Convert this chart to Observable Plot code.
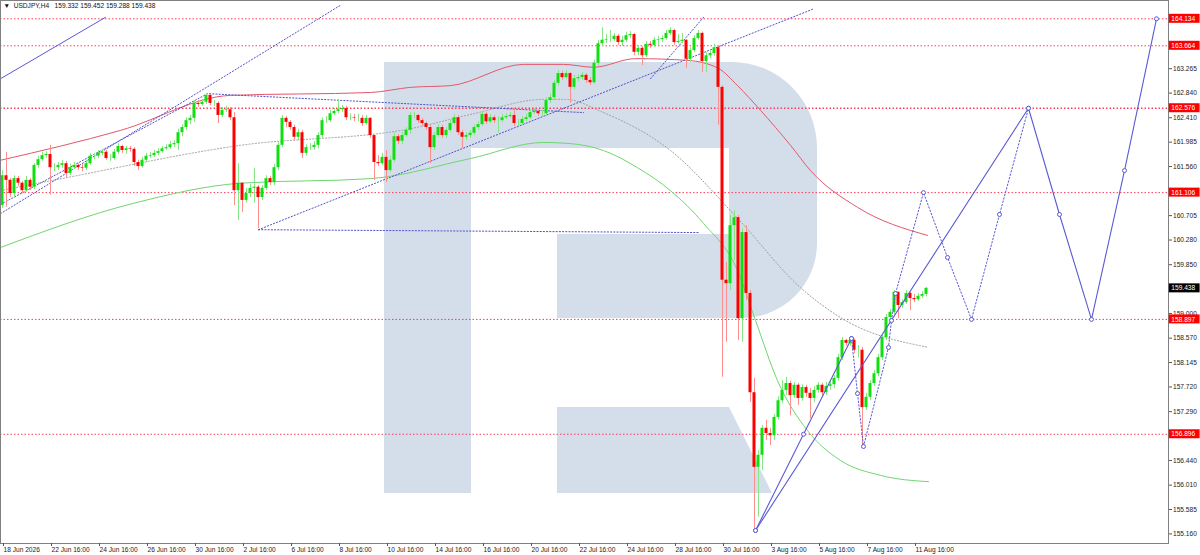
<!DOCTYPE html>
<html><head><meta charset="utf-8">
<script src="https://cdn.jsdelivr.net/npm/d3@7"></script>
<script src="https://cdn.jsdelivr.net/npm/@observablehq/plot@0.6"></script>
<style>html,body{margin:0;padding:0;background:#fff;overflow:hidden}</style>
</head><body><div id="chart"></div>
<script>
const symbolTitle = "USDJPY,H4";
const ohlcHeader = [159.332, 159.452, 159.288, 159.438];
const firstOpen = 160.88;
const closes = [
161.40,161.32,161.09,161.35,161.27,161.14,161.32,161.20,161.58,161.68,
161.75,161.77,161.54,161.54,161.58,161.61,161.44,161.54,161.58,161.54,
161.53,161.61,161.74,161.74,161.79,161.81,161.70,161.70,161.81,161.91,
161.84,161.87,161.86,161.63,161.56,161.67,161.74,161.75,161.79,161.82,
161.87,161.89,161.94,161.96,162.15,162.24,162.36,162.40,162.66,162.64,
162.68,162.80,162.66,162.66,162.45,162.54,162.55,162.41,161.14,161.27,
160.97,161.09,161.18,161.20,161.02,161.18,161.35,161.28,161.54,161.93,
162.40,162.33,162.24,162.07,162.15,161.79,161.89,161.89,161.93,162.10,
162.36,162.36,162.48,162.52,162.55,162.57,162.41,162.41,162.40,162.40,
162.31,162.40,162.10,161.63,161.61,161.72,161.49,161.67,162.08,162.00,
162.10,162.19,162.45,162.45,162.36,162.31,162.24,161.89,162.10,162.24,
162.10,162.19,162.31,162.41,162.15,162.07,162.10,162.14,162.24,162.29,
162.47,162.34,162.41,162.36,162.36,162.41,162.43,162.45,162.31,162.31,
162.38,162.41,162.50,162.52,162.48,162.48,162.71,162.76,163.01,163.18,
163.11,163.18,162.94,163.09,163.11,163.15,163.06,163.02,163.36,163.70,
163.76,163.77,163.77,163.83,163.72,163.76,163.84,163.86,163.55,163.62,
163.49,163.69,163.67,163.76,163.77,163.79,163.88,163.93,163.72,163.74,
163.76,163.43,163.58,163.79,163.88,163.39,163.49,163.53,163.63,162.94,
159.58,159.52,160.53,160.67,158.91,160.41,159.35,157.62,156.32,156.53,
157.00,156.91,156.87,157.19,157.48,157.66,157.78,157.57,157.75,157.52,
157.71,157.61,157.52,157.66,157.75,157.62,157.73,157.76,157.87,158.23,
158.53,158.48,158.53,158.36,158.36,157.36,157.54,157.78,157.95,158.23,
158.58,158.93,159.02,159.37,159.14,159.19,159.35,159.26,159.24,159.30,
159.332,159.438];
const highs = [
161.49,161.81,161.35,161.40,161.39,161.30,161.39,161.35,161.61,161.74,
161.81,161.82,161.93,161.61,161.63,161.67,161.65,161.60,161.63,161.61,
161.60,161.67,161.79,161.79,161.84,161.86,161.84,161.77,161.86,161.96,
161.93,161.91,161.91,161.89,161.67,161.72,161.79,161.81,161.84,161.87,
161.91,161.94,162.00,162.01,162.21,162.29,162.41,162.45,162.71,162.71,
162.73,162.83,162.82,162.71,162.69,162.59,162.61,162.59,162.50,161.61,
161.14,161.18,161.25,161.53,161.23,161.23,161.40,161.39,161.60,161.98,
162.45,162.43,162.36,162.28,162.21,162.19,161.94,161.96,162.00,162.15,
162.41,162.43,162.54,162.57,162.73,162.62,162.61,162.48,162.47,162.47,
162.45,162.45,162.41,162.10,161.75,161.79,161.84,161.74,162.15,162.12,
162.15,162.24,162.50,162.50,162.47,162.40,162.34,162.28,162.15,162.29,
162.28,162.24,162.36,162.47,162.45,162.19,162.15,162.19,162.29,162.34,
162.52,162.50,162.47,162.45,162.43,162.47,162.48,162.50,162.57,162.38,
162.43,162.47,162.55,162.57,162.55,162.54,162.76,162.82,163.06,163.23,
163.22,163.23,163.20,163.15,163.16,163.20,163.18,163.11,163.41,163.76,
163.98,163.86,163.93,163.88,163.86,163.83,163.90,163.91,163.88,163.67,
163.65,163.74,163.74,163.81,163.83,163.84,163.93,163.98,163.95,163.86,
163.88,163.77,163.63,163.84,163.93,163.90,163.55,163.58,163.69,163.67,
162.97,159.89,160.71,160.79,160.71,160.48,160.53,159.40,157.87,156.61,
157.05,157.14,157.00,157.24,157.55,157.83,157.89,157.82,157.80,157.78,
157.76,157.75,157.69,157.73,157.80,157.78,157.80,157.83,157.92,158.29,
158.58,158.55,158.58,158.56,158.44,158.41,157.61,157.83,158.01,158.29,
158.63,158.98,159.07,159.40,159.35,159.24,159.40,159.38,159.33,159.35,
159.38,159.452];
const lows = [
160.83,160.85,161.02,161.02,161.21,161.09,161.11,161.14,161.16,161.53,
161.65,161.70,161.06,161.47,161.49,161.53,161.35,161.40,161.51,161.49,
161.47,161.49,161.58,161.68,161.70,161.75,161.67,161.65,161.67,161.77,
161.79,161.77,161.81,161.56,161.49,161.53,161.63,161.70,161.72,161.75,
161.79,161.84,161.86,161.89,161.84,162.08,162.19,162.29,162.33,162.59,
162.61,162.64,162.62,162.61,162.31,162.41,162.50,162.36,160.88,160.62,
160.76,160.92,161.02,160.92,160.48,160.97,161.14,161.23,161.23,161.49,
161.89,162.24,162.19,162.01,162.01,161.70,161.74,161.84,161.84,161.87,
162.05,162.31,162.33,162.45,162.48,162.50,162.36,162.36,162.34,162.34,
162.26,162.28,162.05,161.32,161.56,161.58,161.28,161.46,161.63,161.94,
161.94,162.07,162.12,162.40,162.31,162.26,162.19,161.61,161.84,162.07,
162.05,162.05,162.15,162.28,162.10,161.87,162.01,162.05,162.10,162.19,
162.26,162.29,162.31,162.31,162.14,162.33,162.38,162.40,162.26,162.26,
162.28,162.34,162.38,162.47,162.43,162.43,162.45,162.66,162.71,162.96,
163.06,163.08,162.66,162.90,163.04,163.06,163.01,162.97,162.99,163.30,
163.65,163.70,163.72,163.74,163.67,163.65,163.72,163.79,163.49,163.49,
163.32,163.46,163.62,163.63,163.67,163.72,163.76,163.84,163.67,163.69,
163.70,163.27,163.37,163.55,163.76,163.20,163.20,163.44,163.48,162.28,
157.89,158.50,159.40,159.92,158.53,158.50,159.23,157.45,155.22,155.45,
156.26,156.79,156.70,156.79,157.14,157.43,157.57,157.22,157.52,157.40,
157.47,157.54,157.17,157.45,157.61,157.55,157.57,157.66,157.69,157.82,
158.18,158.43,158.43,158.30,158.23,156.67,157.31,157.48,157.73,157.90,
158.18,158.53,158.88,158.97,158.91,159.09,159.16,159.05,159.19,159.21,
159.26,159.288];

const xTickIndex = [0,12,24,36,48,60,72,84,96,108,120,132,144,156,168,180,192,204,216,228];
const xTickLabels = ["18 Jun 2026","22 Jun 16:00","24 Jun 16:00","26 Jun 16:00","30 Jun 16:00","2 Jul 16:00","6 Jul 16:00","8 Jul 16:00","10 Jul 16:00","14 Jul 16:00","16 Jul 16:00","20 Jul 16:00","22 Jul 16:00","24 Jul 16:00","28 Jul 16:00","30 Jul 16:00","3 Aug 16:00","5 Aug 16:00","7 Aug 16:00","11 Aug 16:00"];
const yTicks = [163.265,162.840,162.410,161.985,161.560,160.705,160.280,159.850,159.000,158.570,158.145,157.720,157.290,156.440,156.010,155.585,155.160];
const levelPrices = [164.134,163.664,162.576,161.106,158.897,156.896];
const lastPrice = 159.438;

const redMA = [[-0.5,161.67],[29.5,162.19],[57,162.80],[92,162.85],[102,162.94],[112,162.97],[130.25,163.34],[140.25,163.34],[147.75,163.29],[158.25,163.44],[171.25,163.41],[179,163.27],[183.75,162.97],[189.5,162.54],[197,161.93],[202,161.49],[213.75,160.85],[231.25,160.36]];
const greenMA = [[-0.5,160.15],[32.75,160.92],[59.5,161.27],[92,161.35],[117,161.70],[135.25,161.98],[142,161.96],[150.25,161.84],[158.75,161.54],[167,161.14],[175.25,160.57],[183.75,159.75],[188.25,158.88],[193.75,157.83],[201.25,156.96],[209.5,156.44],[219.5,156.18],[231.5,156.07]];
const grayMA = [[-0.5,161.14],[16.25,161.37],[59.5,161.93],[102,162.22],[117.75,162.48],[135.25,162.73],[140.75,162.73],[150.25,162.50],[167,161.84],[183.75,160.66],[199.5,159.45],[209.5,158.93],[231.5,158.41]];

const solidTrends = [[[-0.5,163.09],[25.75,164.16]]];
const dottedTrends = [
  [[-0.5,160.74],[84.5,164.37]],
  [[-0.5,160.90],[51.25,162.83],[145.25,162.50]],
  [[64,160.46],[174,160.41]],
  [[64,160.46],[202.5,164.30]],
  [[162,163.09],[175.25,164.16]]
];
const forecastSolid = [
  [[188.25,155.22],[200.25,156.896],[212.25,158.564]],
  [[188.25,155.22],[256.5,162.576],[264.25,160.725],[272.25,158.897],[280.5,161.49],[288.5,164.134]]
];
const forecastDotted = [
  [[212.25,158.564],[213.75,157.606],[215.25,156.683],[221.5,158.408],[222.25,158.878],[223.25,159.348],[230.25,161.106],[236.25,159.976],[242.25,158.897],[249.25,160.725],[256.5,162.576]]
];

// build tables from the arrays
const candles = closes.map((c, i) => {
  const o = i === 0 ? firstOpen : closes[i - 1];
  return {i, o, c, h: Math.max(highs[i], o, c), l: Math.min(lows[i], o, c), up: c >= o};
});
const flat = (groups) => groups.flatMap((g, k) => g.map(([x, y]) => ({x, y, k})));
const labelMap = new Map(xTickIndex.map((d, i) => [d, xTickLabels[i]]));
const blue = "#5a5ad6";

const chart = Plot.plot({
  width: 1200, height: 555,
  marginLeft: 0, marginRight: 32, marginTop: 0, marginBottom: 12,
  x: {domain: [-0.5, 291.5], axis: null},
  y: {domain: [154.993, 164.453], axis: null},
  style: {fontFamily: "'Liberation Sans', 'DejaVu Sans', sans-serif", fontSize: "6.6px", background: "#fff", color: "#222", overflow: "visible"},
  marks: [
    Plot.ruleY(levelPrices, {stroke: "#ff3c5a", strokeDasharray: "1.5,2", strokeWidth: d => d === 162.576 ? 1.6 : 1}),
    Plot.line(grayMA, {x: d => d[0], y: d => d[1], stroke: "#a0a0a0", strokeDasharray: "1.2,2", strokeWidth: 1, curve: "monotone-x"}),
    Plot.line(greenMA, {x: d => d[0], y: d => d[1], stroke: "#6fd66f", strokeWidth: 1, curve: "monotone-x"}),
    Plot.line(redMA, {x: d => d[0], y: d => d[1], stroke: "#e4576a", strokeWidth: 1, curve: "monotone-x"}),
    Plot.line(flat(solidTrends), {x: "x", y: "y", z: "k", stroke: blue, strokeWidth: 1}),
    Plot.line(flat(dottedTrends), {x: "x", y: "y", z: "k", stroke: "#5050c8", strokeWidth: 1, strokeDasharray: "1.2,2"}),
    Plot.ruleX(candles, {x: "i", y1: "l", y2: "h", stroke: d => d.up ? "#86e686" : "#ff8e8e", strokeWidth: 1}),
    Plot.rect(candles, {x1: d => d.i - 0.375, x2: d => d.i + 0.375, y1: "o", y2: "c", fill: d => d.up ? "#10e010" : "#ff0000"}),
    Plot.line(flat(forecastSolid), {x: "x", y: "y", z: "k", stroke: blue, strokeWidth: 1.1}),
    Plot.line(flat(forecastDotted), {x: "x", y: "y", z: "k", stroke: blue, strokeWidth: 1, strokeDasharray: "1.5,2"}),
    Plot.dot(flat(forecastSolid.concat(forecastDotted)), {x: "x", y: "y", r: 2, stroke: blue, fill: "#fff", strokeWidth: 1}),
    Plot.frame({stroke: "#808080"}),
    Plot.axisY({anchor: "right", ticks: yTicks, tickFormat: d => d.toFixed(3), tickSize: 3, tickPadding: 1.5, fontSize: 6.6, stroke: "#555"}),
    Plot.axisX({anchor: "bottom", ticks: xTickIndex, tickFormat: d => labelMap.get(d), tickSize: 3, tickPadding: 1, textAnchor: "start", dx: 1, fontSize: 6.6, stroke: "#555"}),
    Plot.rect(levelPrices, {x1: 291.7, x2: 299.4, y1: d => d, y2: d => d, insetTop: -4.5, insetBottom: -4.5, fill: "#ff0000"}),
    Plot.text(levelPrices, {x: 291.7, y: d => d, text: d => d.toFixed(3), fill: "#fff", textAnchor: "start", dx: 2, fontSize: 6.6}),
    Plot.rect([lastPrice], {x1: 291.7, x2: 299.4, y1: d => d, y2: d => d, insetTop: -4.5, insetBottom: -4.5, fill: "#000"}),
    Plot.text([lastPrice], {x: 291.7, y: d => d, text: d => d.toFixed(3), fill: "#fff", textAnchor: "start", dx: 2, fontSize: 6.6}),
    Plot.text([`\u25BC  ${symbolTitle}   ${ohlcHeader.map(v => v.toFixed(3)).join(" ")}`], {frameAnchor: "top-left", dx: 3, dy: 3, fontSize: 6.6, fill: "#111", textAnchor: "start"})
  ]
});

// RoboForex watermark behind everything
const ns = "http://www.w3.org/2000/svg";
const logo = document.createElementNS(ns, "g");
logo.setAttribute("fill", "#d4deea");
const p1 = document.createElementNS(ns, "path");
p1.setAttribute("d", "M384,62H732A85,86 0 0 1 817,148V243A75,75 0 0 1 742,318H557V234H729V148H471V493H384Z");
const p2 = document.createElementNS(ns, "path");
p2.setAttribute("d", "M557,407H729L772,493H557Z");
logo.appendChild(p1); logo.appendChild(p2);
const styleEl = chart.querySelector("style");
chart.insertBefore(logo, styleEl ? styleEl.nextSibling : chart.firstChild);
document.getElementById("chart").appendChild(chart);
</script>
</body></html>
